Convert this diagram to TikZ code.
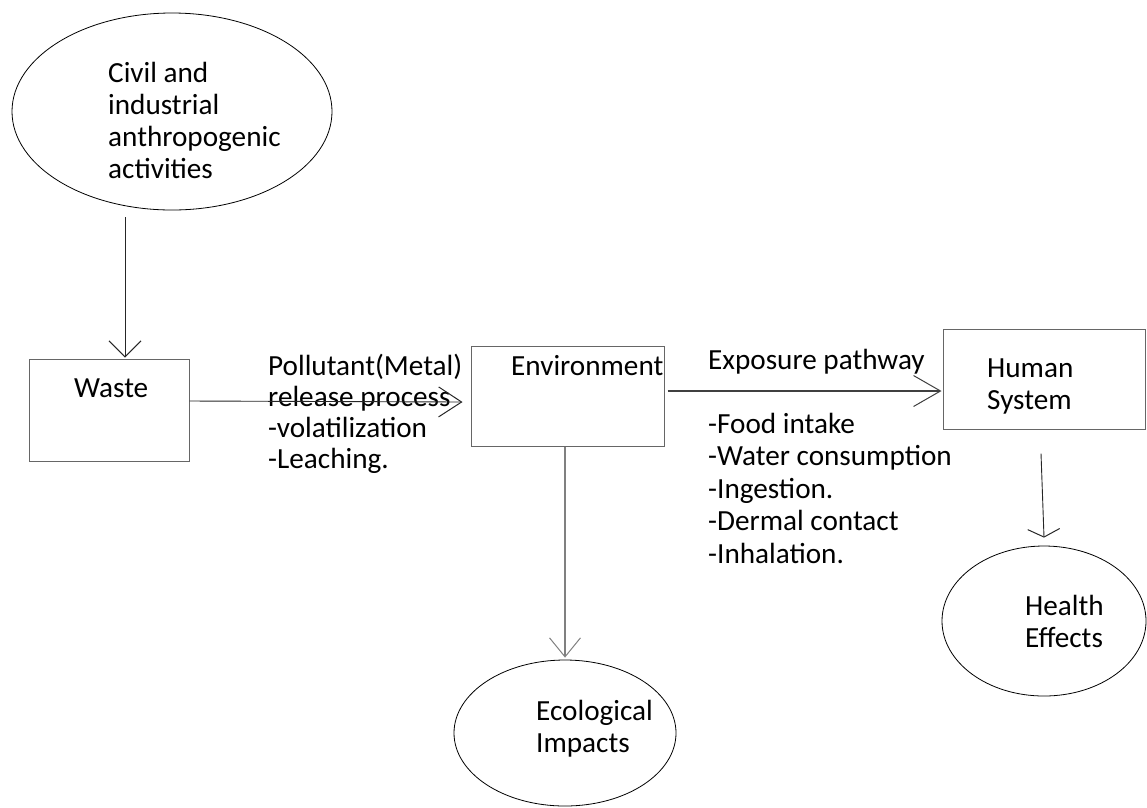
\documentclass[tikz,border=0pt]{standalone}
\usepackage{fontspec}
\setmainfont{Carlito}
\usetikzlibrary{shapes.geometric,arrows.meta}
\tikzset{
  txt/.style={inner sep=0pt, anchor=base west, align=left, font=\fontsize{29.2}{32}\selectfont},
  oval/.style={draw=black, line width=0.8pt, ellipse, inner sep=0pt},
  boxnode/.style={draw=black!60, line width=1pt, rectangle, inner sep=0pt},
  barb/.style 2 args={-{Straight Barb[length=#1pt,width=#2pt,line width=1pt]}},
  thin/.style={line width=0.9pt, draw=black!85},
}
\begin{document}
\begin{tikzpicture}[x=1pt,y=-1pt]
\useasboundingbox (0,0) rectangle (1147,807);
% shapes
\node[oval, minimum width=320pt, minimum height=197pt] (civil) at (172,111.5) {};
\node[boxnode, minimum width=160pt, minimum height=102pt] (waste) at (109,410) {};
\node[boxnode, minimum width=193pt, minimum height=100pt] (env) at (567.5,396) {};
\node[boxnode, minimum width=202pt, minimum height=100pt] (human) at (1044,379) {};
\node[oval, minimum width=222pt, minimum height=146pt] (eco) at (565,733) {};
\node[oval, minimum width=204pt, minimum height=150pt] (health) at (1044,621) {};
% texts (anchored at the baseline of the last line)
\node[txt] (civiltxt) at (108,178) {Civil and\\industrial\\anthropogenic\\activities};
\node[txt] (wastetxt) at (74,397) {Waste};
\node[txt] (envtxt) at (511,375) {Environment};
\node[txt] (humantxt) at (987,409) {Human\\System};
\node[txt] (ecotxt) at (536,752) {Ecological\\Impacts};
\node[txt] (healthtxt) at (1025,647) {Health\\Effects};
\node[txt, font=\fontsize{29.2}{31}\selectfont] (releasetxt) at (268,468) {Pollutant(Metal)\\release process\\-volatilization\\-Leaching.};
\node[txt] (exposuretxt) at (708,369) {Exposure pathway};
\node[txt, font=\fontsize{29.2}{32.5}\selectfont] (routestxt) at (708,563) {-Food intake\\-Water consumption\\-Ingestion.\\-Dermal contact\\-Inhalation.};
% connectors
\draw[thin, barb={16}{32}] ([xshift=-47pt,yshift=-7pt]civil.south) -- ([xshift=16pt,yshift=1pt]waste.north);
\draw[thin, barb={23}{30}] ([yshift=9pt]waste.east) -- ([xshift=-8pt,yshift=-6pt]env.west);
\draw[line width=2pt, draw=black!50, barb={19}{31}] ([xshift=-2.5pt]env.south) -- ([yshift=2pt]eco.north);
\draw[line width=2.5pt, draw=black!75, barb={27}{31}] ([xshift=3pt,yshift=5pt]env.east) -- ([xshift=-1pt,yshift=-12pt]human.west);
\draw[thin, barb={8}{32}] ([xshift=-3pt,yshift=-24pt]human.south) -- ([yshift=8pt]health.north);
\end{tikzpicture}
\end{document}
